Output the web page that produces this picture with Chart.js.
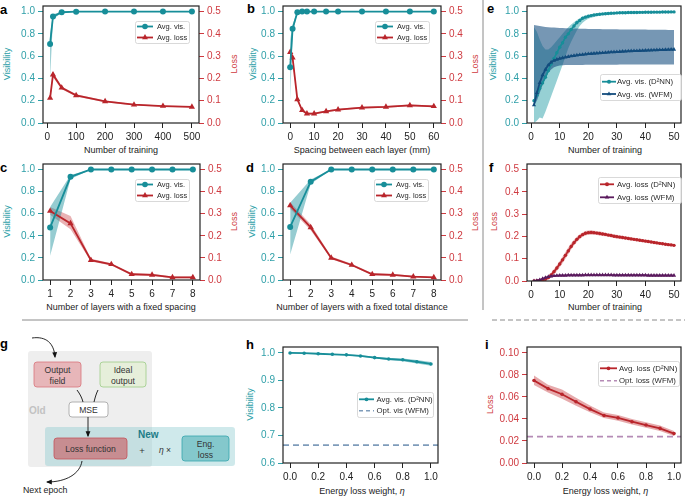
<!DOCTYPE html>
<html><head><meta charset="utf-8">
<script src="https://cdn.jsdelivr.net/npm/chart.js@4.4.1/dist/chart.umd.min.js"></script>
<style>
html,body{margin:0;padding:0;background:#fff}
body{width:685px;height:498px;position:relative;overflow:hidden;font-family:'Liberation Sans',Arial,Helvetica,sans-serif}
canvas{position:absolute}
#ov{position:absolute;left:0;top:0}
</style></head><body>
<svg id="ov" xmlns="http://www.w3.org/2000/svg" width="685" height="498" font-family="Liberation Sans, Arial, sans-serif">
<defs><marker id="ah" viewBox="0 0 10 10" refX="8" refY="5" markerWidth="6" markerHeight="6" markerUnits="userSpaceOnUse" orient="auto"><path d="M0,1 L10,5 L0,9 z" fill="#111"/></marker></defs>
<line x1="483" y1="0" x2="483" y2="310" stroke="#8a8a8a" stroke-width="1"/>
<line x1="22" y1="320" x2="468" y2="320" stroke="#8a8a8a" stroke-width="1"/>
<line x1="492" y1="320" x2="685" y2="320" stroke="#8a8a8a" stroke-width="1" stroke-dasharray="5,3"/>
<g font-weight="bold" font-size="13" fill="#000">
<text x="0" y="14">a</text><text x="247" y="13">b</text><text x="487" y="13">e</text>
<text x="0" y="172">c</text><text x="246" y="172">d</text><text x="489" y="172">f</text>
<text x="0" y="348">g</text><text x="246" y="349">h</text><text x="485" y="349">i</text>
</g>
<g font-size="9" text-anchor="middle">
<text x="121" y="152.5" fill="#222">Number of training</text>
<text x="362" y="152.5" fill="#222">Spacing between each layer (mm)</text>
<text x="605" y="152.5" fill="#222">Number of training</text>
<text x="121" y="309.5" fill="#222">Number of layers with a fixed spacing</text>
<text x="362" y="309.5" fill="#222">Number of layers with a fixed total distance</text>
<text x="605" y="309.5" fill="#222">Number of training</text>
<text x="362" y="493.5" fill="#222">Energy loss weight, <tspan font-style="italic">η</tspan></text>
<text x="605.5" y="493.5" fill="#222">Energy loss weight, <tspan font-style="italic">η</tspan></text>
<text transform="translate(7,64) rotate(-90)" dominant-baseline="central" fill="#2e9fa8">Visibility</text>
<text transform="translate(233.5,64) rotate(-90)" dominant-baseline="central" fill="#cf3a40">Loss</text>
<text transform="translate(253,64) rotate(-90)" dominant-baseline="central" fill="#2e9fa8">Visibility</text>
<text transform="translate(475,64) rotate(-90)" dominant-baseline="central" fill="#cf3a40">Loss</text>
<text transform="translate(492.5,64) rotate(-90)" dominant-baseline="central" fill="#2e9fa8">Visibility</text>
<text transform="translate(7,221.5) rotate(-90)" dominant-baseline="central" fill="#2e9fa8">Visibility</text>
<text transform="translate(233.5,221.5) rotate(-90)" dominant-baseline="central" fill="#cf3a40">Loss</text>
<text transform="translate(252,221.5) rotate(-90)" dominant-baseline="central" fill="#2e9fa8">Visibility</text>
<text transform="translate(475,221.5) rotate(-90)" dominant-baseline="central" fill="#cf3a40">Loss</text>
<text transform="translate(493.5,221.5) rotate(-90)" dominant-baseline="central" fill="#cf3a40">Loss</text>
<text transform="translate(250,404.5) rotate(-90)" dominant-baseline="central" fill="#2e9fa8">Visibility</text>
<text transform="translate(490,404.5) rotate(-90)" dominant-baseline="central" fill="#cf3a40">Loss</text>
</g>
<!-- panel g diagram -->
<rect x="28" y="351" width="124" height="116" rx="3" fill="#eeeeee"/>
<rect x="45" y="427" width="190" height="39" rx="3" fill="#8ccacf" fill-opacity="0.42"/>
<rect x="34" y="362" width="47" height="25" rx="3" fill="#e7b6b9" stroke="#d9737b" stroke-width="0.8"/>
<rect x="100" y="362" width="46" height="25" rx="3" fill="#e6efda" stroke="#9ccb87" stroke-width="0.8"/>
<rect x="69" y="402" width="39" height="15" rx="3" fill="#ffffff" stroke="#a0a0a0" stroke-width="0.8"/>
<rect x="54" y="438" width="73" height="21" rx="3" fill="#c78d91" stroke="#c4545c" stroke-width="0.8"/>
<rect x="182" y="436" width="47" height="25" rx="3" fill="#84c8cc" stroke="#36a5ad" stroke-width="0.8"/>
<g font-size="8.6" fill="#333" text-anchor="middle">
<text x="57.5" y="372.5">Output</text><text x="57.5" y="383.5">field</text>
<text x="123" y="372.5">Ideal</text><text x="123" y="383.5">output</text>
<text x="88.5" y="412.8">MSE</text>
<text x="90.5" y="451.8">Loss function</text>
<text x="205.5" y="446.5">Eng.</text><text x="205.5" y="457.5">loss</text>
<text x="142" y="453.5" font-size="9.5">+</text>
<text x="165" y="453"><tspan font-style="italic">η</tspan> ×</text>
</g>
<text x="29" y="414" font-size="10" font-weight="bold" fill="#c2c2c2">Old</text>
<text x="138" y="437.5" font-size="10" font-weight="bold" fill="#1d7c87">New</text>
<text x="23" y="492.5" font-size="8.8" fill="#222">Next epoch</text>
<g fill="none" stroke="#111" stroke-width="0.9">
<path d="M32,338 C46,336 54,343 55,357" marker-end="url(#ah)"/>
<path d="M77,390 C80,394 82,398 83,402"/>
<path d="M98,390 C96,394 95,398 94,402"/>
<path d="M88,417 L88,436" marker-end="url(#ah)"/>
<path d="M82,461 C80,474 66,482 47,482" marker-end="url(#ah)"/>
</g>
</svg>
<script>
const FONT = "'Liberation Sans', Arial, Helvetica, sans-serif";
const TEAL = '#178e99', TEAL_T = '#2e9fa8', RED = '#b9252b', RED_T = '#cf3a40';
const NAVY = '#134c7d', PURPLE = '#5b1b5e';

// ---- panel a ----
const aX = [10, 20, 50, 100, 200, 300, 400, 500];
const aVis = [0.71, 0.955, 0.994, 0.999, 1.0, 1.0, 1.0, 1.0];
const aVisLo = [0.40, 0.93, 0.99, 0.998, 1.0, 1.0, 1.0, 1.0];
const aVisHi = [0.80, 0.975, 0.998, 1.0, 1.0, 1.0, 1.0, 1.0];
const aLoss = [0.112, 0.217, 0.158, 0.124, 0.097, 0.082, 0.076, 0.072];
const aLossLo = [0.102, 0.205, 0.152, 0.119, 0.093, 0.079, 0.073, 0.069];
const aLossHi = [0.122, 0.229, 0.164, 0.129, 0.101, 0.085, 0.079, 0.075];
const aXTicks = [0, 100, 200, 300, 400, 500];

// ---- panel b ----
const bX = [0, 1, 3, 5, 7, 10, 15, 20, 30, 40, 50, 60];
const bVis = [0.50, 0.845, 0.995, 1, 1, 1, 1, 1, 1, 1, 1, 1];
const bVisLo = [0.20, 0.80, 0.99, 1, 1, 1, 1, 1, 1, 1, 1, 1];
const bVisHi = [0.75, 0.885, 1.0, 1, 1, 1, 1, 1, 1, 1, 1, 1];
const bLoss = [0.318, 0.293, 0.106, 0.057, 0.042, 0.042, 0.052, 0.060, 0.069, 0.072, 0.079, 0.075];
const bLossLo = [0.290, 0.280, 0.098, 0.052, 0.038, 0.038, 0.048, 0.056, 0.065, 0.068, 0.075, 0.071];
const bLossHi = [0.345, 0.310, 0.114, 0.062, 0.046, 0.046, 0.056, 0.064, 0.073, 0.076, 0.083, 0.079];
const bXTicks = [0, 10, 20, 30, 40, 50, 60];

// ---- panel c ----
const cX = [1, 2, 3, 4, 5, 6, 7, 8];
const cVis = [0.476, 0.934, 1, 1, 1, 1, 1, 1];
const cVisLo = [0.22, 0.915, 1, 1, 1, 1, 1, 1];
const cVisHi = [0.66, 0.95, 1, 1, 1, 1, 1, 1];
const cLoss = [0.312, 0.256, 0.090, 0.071, 0.026, 0.023, 0.012, 0.012];
const cLossLo = [0.295, 0.230, 0.084, 0.066, 0.021, 0.018, 0.008, 0.008];
const cLossHi = [0.330, 0.290, 0.096, 0.076, 0.031, 0.028, 0.016, 0.016];

// ---- panel d ----
const dX = [1, 2, 3, 4, 5, 6, 7, 8];
const dVis = [0.48, 0.89, 1, 1, 1, 1, 1, 1];
const dVisLo = [0.23, 0.87, 1, 1, 1, 1, 1, 1];
const dVisHi = [0.70, 0.91, 1, 1, 1, 1, 1, 1];
const dLoss = [0.337, 0.238, 0.100, 0.068, 0.026, 0.023, 0.015, 0.012];
const dLossLo = [0.322, 0.225, 0.094, 0.063, 0.022, 0.019, 0.011, 0.009];
const dLossHi = [0.352, 0.252, 0.106, 0.073, 0.030, 0.027, 0.019, 0.015];
const layerTicks = [1, 2, 3, 4, 5, 6, 7, 8];

// ---- panel e ----
const eX = [1,2,3,4,5,6,7,8,9,10,11,12,13,14,15,16,17,18,19,20,21,22,23,24,25,26,27,28,29,30,31,32,33,34,35,36,37,38,39,40,41,42,43,44,45,46,47,48,49,50];
const eD2 = [0.20,0.25,0.31,0.36,0.41,0.47,0.53,0.58,0.63,0.68, 0.72,0.77,0.80,0.84,0.87,0.90,0.92,0.94,0.95,0.958, 0.964,0.969,0.973,0.976,0.979,0.981,0.983,0.985,0.986,0.988, 0.989,0.990,0.990,0.991,0.991,0.992,0.992,0.993,0.993,0.994, 0.994,0.994,0.995,0.995,0.995,0.996,0.996,0.996,0.997,0.997];
const eD2Lo = [0.00,0.02,0.05,0.04,0.10,0.17,0.24,0.31,0.38,0.45, 0.52,0.60,0.67,0.73,0.78,0.83,0.87,0.90,0.92,0.935, 0.945,0.952,0.958,0.962,0.966,0.969,0.972,0.974,0.976,0.978, 0.979,0.980,0.981,0.982,0.983,0.984,0.985,0.986,0.986,0.987, 0.987,0.988,0.988,0.989,0.989,0.990,0.990,0.990,0.991,0.991];
const eD2Hi = [0.86,0.82,0.75,0.69,0.66,0.66,0.68,0.71,0.74,0.77, 0.80,0.83,0.86,0.885,0.905,0.925,0.94,0.955,0.965,0.972, 0.977,0.981,0.984,0.986,0.988,0.989,0.990,0.991,0.991,0.992, 0.993,0.993,0.994,0.994,0.995,0.995,0.995,0.996,0.996,0.996, 0.997,0.997,0.997,0.997,0.998,0.998,0.998,0.998,0.999,0.999];
const eW = [0.16,0.27,0.36,0.43,0.48,0.52,0.545,0.56,0.57,0.578, 0.584,0.59,0.595,0.60,0.604,0.608,0.611,0.614,0.617,0.62, 0.622,0.624,0.626,0.628,0.63,0.632,0.634,0.636,0.637,0.639, 0.64,0.642,0.643,0.645,0.646,0.647,0.648,0.649,0.65,0.651, 0.652,0.653,0.654,0.655,0.656,0.657,0.658,0.659,0.66,0.66];
const eWLo = [0.16,0.20,0.27,0.34,0.40,0.45,0.48,0.50,0.51,0.515, 0.518,0.52,0.52,0.52,0.52,0.521,0.521,0.521,0.522,0.522, 0.522,0.522,0.522,0.523,0.523,0.523,0.523,0.523,0.523,0.523, 0.524,0.524,0.524,0.524,0.524,0.524,0.524,0.524,0.524,0.524, 0.525,0.525,0.525,0.525,0.525,0.525,0.525,0.525,0.525,0.525];
const eWHi = [0.88,0.875,0.87,0.866,0.862,0.86,0.858,0.856,0.855,0.853, 0.852,0.851,0.85,0.849,0.848,0.847,0.846,0.845,0.845,0.844, 0.844,0.843,0.843,0.843,0.842,0.842,0.842,0.841,0.841,0.841, 0.840,0.840,0.840,0.839,0.839,0.839,0.838,0.838,0.838,0.838, 0.837,0.837,0.837,0.837,0.836,0.836,0.836,0.835,0.835,0.835];
const trainTicks = [0, 10, 20, 30, 40, 50];

// ---- panel f ----
const fD2 = [0.000,0.001,0.002,0.004,0.008,0.015,0.027,0.042,0.058,0.076, 0.095,0.115,0.135,0.155,0.172,0.187,0.199,0.208,0.214,0.217, 0.218,0.217,0.215,0.213,0.211,0.209,0.206,0.204,0.201,0.199, 0.197,0.195,0.193,0.191,0.189,0.187,0.185,0.183,0.181,0.179, 0.177,0.175,0.173,0.171,0.169,0.167,0.165,0.163,0.162,0.160];
const fD2Spread = [0.001,0.002,0.003,0.004,0.006,0.008,0.010,0.012,0.013,0.014, 0.015,0.015,0.015,0.014,0.013,0.012,0.011,0.010,0.010,0.010, 0.010,0.009,0.009,0.009,0.009,0.008,0.008,0.008,0.008,0.008, 0.008,0.008,0.007,0.007,0.007,0.007,0.007,0.007,0.007,0.007, 0.007,0.006,0.006,0.006,0.006,0.006,0.006,0.006,0.006,0.006];
const fW = [0.000,0.002,0.005,0.010,0.015,0.019,0.021,0.023,0.024,0.025, 0.025,0.025,0.026,0.026,0.026,0.026,0.026,0.026,0.027,0.027, 0.027,0.027,0.027,0.027,0.027,0.027,0.027,0.027,0.026,0.026, 0.026,0.026,0.026,0.026,0.026,0.026,0.026,0.026,0.026,0.026, 0.025,0.025,0.025,0.025,0.025,0.025,0.025,0.025,0.025,0.025];
const fWSpread = [0.001,0.001,0.002,0.002,0.003,0.003,0.003,0.003,0.003,0.003, 0.003,0.003,0.003,0.003,0.003,0.003,0.003,0.003,0.003,0.003, 0.003,0.003,0.003,0.003,0.003,0.003,0.003,0.003,0.003,0.003, 0.003,0.003,0.003,0.003,0.003,0.003,0.003,0.003,0.003,0.003, 0.003,0.003,0.003,0.003,0.003,0.003,0.003,0.003,0.003,0.003];

// ---- panel h ----
const etaX = [0.0, 0.1, 0.2, 0.3, 0.4, 0.5, 0.6, 0.7, 0.8, 0.9, 1.0];
const hVis = [1.000, 0.999, 0.997, 0.995, 0.993, 0.989, 0.983, 0.978, 0.975, 0.968, 0.960];
const hSpread = [0.001, 0.001, 0.0015, 0.002, 0.002, 0.0025, 0.003, 0.004, 0.005, 0.006, 0.007];
const hOptVis = 0.665;
const etaTicks = [0.0, 0.2, 0.4, 0.6, 0.8, 1.0];

// ---- panel i ----
const iLoss = [0.0750, 0.0676, 0.0625, 0.0556, 0.0490, 0.0432, 0.0410, 0.0375, 0.0345, 0.0315, 0.0267];
const iLossLo = [0.0708, 0.0640, 0.0583, 0.0520, 0.0460, 0.0410, 0.0385, 0.0350, 0.0320, 0.0290, 0.0245];
const iLossHi = [0.0796, 0.0712, 0.0668, 0.0592, 0.0522, 0.0458, 0.0437, 0.0400, 0.0370, 0.0340, 0.0290];
const iOptLoss = 0.024;

// tick label arrays
const visTicks = [0, 0.2, 0.4, 0.6, 0.8, 1.0];
const lossTicks = [0, 0.1, 0.2, 0.3, 0.4, 0.5];
const hYTicks = [0.6, 0.7, 0.8, 0.9, 1.0];
const iYTicks = [0, 0.02, 0.04, 0.06, 0.08, 0.10];

const pts = (xs, ys) => xs.map((x, i) => ({x, y: ys[i]}));
const CLEAR = 'rgba(0,0,0,0)';
function band(xs, lo, hi, color, axis) {
  return [
    {data: pts(xs, lo), borderColor: CLEAR, borderWidth: 0, pointRadius: 0, fill: false, yAxisID: axis, order: 10},
    {data: pts(xs, hi), borderColor: CLEAR, borderWidth: 0, pointRadius: 0, fill: '-1', backgroundColor: color, yAxisID: axis, order: 10}
  ];
}
function line(xs, ys, color, axis, style, r, lw) {
  return {data: pts(xs, ys), borderColor: color, backgroundColor: color, borderWidth: lw, pointRadius: r,
    pointStyle: style, pointBackgroundColor: color, pointBorderColor: color, pointBorderWidth: 0,
    yAxisID: axis, order: 0, tension: 0, fill: false};
}
function hline(x0, x1, y, color, axis) {
  return {data: [{x: x0, y}, {x: x1, y}], borderColor: color, borderWidth: 1.6, borderDash: [6, 4],
    pointRadius: 0, yAxisID: axis, order: 1, fill: false};
}

const framePlugin = {id: 'frame', afterDatasetsDraw(chart) {
  const {ctx, chartArea: a} = chart;
  ctx.save(); ctx.strokeStyle = '#222'; ctx.lineWidth = 1.2;
  ctx.strokeRect(a.left, a.top, a.right - a.left, a.bottom - a.top); ctx.restore();
}};
function legendPlugin(L, ox, oy) {
  return {id: 'boxLegend', afterDraw(chart) {
    const ctx = chart.ctx; const x = L.x - ox, y = L.y - oy;
    ctx.save();
    ctx.beginPath();
    if (ctx.roundRect) ctx.roundRect(x + 0.5, y + 0.5, L.w, L.h, 2); else ctx.rect(x + 0.5, y + 0.5, L.w, L.h);
    ctx.fillStyle = 'rgba(255,255,255,0.85)'; ctx.fill();
    ctx.strokeStyle = '#cfcfcf'; ctx.lineWidth = 0.8; ctx.stroke();
    L.items.forEach((it, i) => {
      const cy = y + L.rows[i], x0 = x + L.line[0], x1 = x0 + L.line[1];
      ctx.strokeStyle = it.color; ctx.lineWidth = it.lw || 1.8; ctx.setLineDash(it.dash || []);
      ctx.beginPath(); ctx.moveTo(x0, cy); ctx.lineTo(x1, cy); ctx.stroke(); ctx.setLineDash([]);
      if (it.marker) {
        ctx.fillStyle = it.color; const mx = (x0 + x1) / 2, r = it.r; ctx.beginPath();
        if (it.marker === 'circle') ctx.arc(mx, cy, r, 0, Math.PI * 2);
        else { ctx.moveTo(mx, cy - r); ctx.lineTo(mx + r * 0.866, cy + r * 0.5); ctx.lineTo(mx - r * 0.866, cy + r * 0.5); ctx.closePath(); }
        ctx.fill();
      }
      ctx.fillStyle = '#2a2a2a'; ctx.font = L.fs + 'px ' + FONT; ctx.textBaseline = 'middle'; ctx.textAlign = 'left';
      ctx.fillText(it.label, x + L.textX, cy + 0.5);
    });
    ctx.restore();
  }};
}

function makePanel(p) {
  const padT = 3, botH = 22, padR = p.y2 ? 0 : 1, rw = p.y2 ? p.rightW : 0;
  const w = (p.R - p.L) + p.leftW + rw + padR, h = (p.B - p.T) + padT + botH;
  const ox = p.L - p.leftW, oy = p.T - padT;
  const cv = document.createElement('canvas');
  cv.width = w; cv.height = h;
  cv.style.left = ox + 'px'; cv.style.top = oy + 'px'; cv.style.width = w + 'px'; cv.style.height = h + 'px';
  document.body.appendChild(cv);
  const yAxis = (o, pos, width) => ({type: 'linear', position: pos, min: o.min, max: o.max,
    afterBuildTicks: s => { s.ticks = o.ticks.map(v => ({value: v})); },
    afterFit: s => { s.width = width; s.paddingTop = 0; s.paddingBottom = 0; },
    grid: {drawOnChartArea: false, drawTicks: true, tickLength: 5, color: o.color, lineWidth: 1},
    border: {display: false},
    ticks: {color: o.color, font: {family: FONT, size: 10}, padding: 3, autoSkip: false, callback: v => Number(v).toFixed(o.dec)}});
  const scales = {
    x: {type: 'linear', min: p.x.min, max: p.x.max,
      afterBuildTicks: s => { s.ticks = p.x.ticks.map(v => ({value: v})); },
      afterFit: s => { s.height = botH; s.paddingLeft = 0; s.paddingRight = 0; },
      grid: {drawOnChartArea: false, drawTicks: true, tickLength: 5, color: '#222', lineWidth: 1},
      border: {display: false},
      ticks: {color: '#222', font: {family: FONT, size: 10}, padding: 3, autoSkip: false, maxRotation: 0, callback: v => Number(v).toFixed(p.x.dec)}},
    y: yAxis(p.y, 'left', p.leftW)
  };
  if (p.y2) scales.y2 = yAxis(p.y2, 'right', p.rightW);
  new Chart(cv, {type: 'line', data: {datasets: p.datasets},
    options: {responsive: false, animation: false, layout: {padding: {top: padT, right: padR, left: 0, bottom: 0}},
      scales, plugins: {legend: {display: false}, tooltip: {enabled: false}}},
    plugins: [framePlugin, legendPlugin(p.legend, ox, oy)]});
}

const tealBand = 'rgba(23,142,153,0.45)', redBand = 'rgba(196,52,58,0.38)';
const visY = {min: 0, max: 1.05, ticks: visTicks, dec: 1, color: TEAL_T};
const lossY = {min: 0, max: 0.525, ticks: lossTicks, dec: 1, color: RED_T};
const legAB = (x, y) => ({x, y, w: 54, h: 22, rows: [5.5, 16.5], line: [2, 16], textX: 22, fs: 7.5,
  items: [{label: 'Avg. vis.', color: TEAL, marker: 'circle', r: 2.8}, {label: 'Avg. loss', color: RED, marker: 'triangle', r: 3.4}]});

makePanel({L: 43, T: 5, R: 199, B: 123, leftW: 43, rightW: 36,
  x: {min: -14.5, max: 524.5, ticks: aXTicks, dec: 0}, y: visY, y2: lossY,
  datasets: [...band(aX, aVisLo, aVisHi, tealBand, 'y'), ...band(aX, aLossLo, aLossHi, redBand, 'y2'),
    line(aX, aVis, TEAL, 'y', 'circle', 3, 1.8), line(aX, aLoss, RED, 'y2', 'triangle', 3.6, 1.8)],
  legend: legAB(135, 21)});

makePanel({L: 283, T: 5, R: 441, B: 123, leftW: 35, rightW: 36,
  x: {min: -3, max: 63, ticks: bXTicks, dec: 0}, y: visY, y2: lossY,
  datasets: [...band(bX, bVisLo, bVisHi, tealBand, 'y'), ...band(bX, bLossLo, bLossHi, redBand, 'y2'),
    line(bX, bVis, TEAL, 'y', 'circle', 3, 1.8), line(bX, bLoss, RED, 'y2', 'triangle', 3.6, 1.8)],
  legend: legAB(375, 21)});

makePanel({L: 43, T: 163, R: 200, B: 280, leftW: 43, rightW: 36,
  x: {min: 0.65, max: 8.35, ticks: layerTicks, dec: 0}, y: visY, y2: lossY,
  datasets: [...band(cX, cVisLo, cVisHi, tealBand, 'y'), ...band(cX, cLossLo, cLossHi, redBand, 'y2'),
    line(cX, cVis, TEAL, 'y', 'circle', 3, 1.8), line(cX, cLoss, RED, 'y2', 'triangle', 3.6, 1.8)],
  legend: legAB(135, 179)});

makePanel({L: 283, T: 163, R: 441, B: 280, leftW: 35, rightW: 36,
  x: {min: 0.65, max: 8.35, ticks: layerTicks, dec: 0}, y: visY, y2: lossY,
  datasets: [...band(dX, dVisLo, dVisHi, tealBand, 'y'), ...band(dX, dLossLo, dLossHi, redBand, 'y2'),
    line(dX, dVis, TEAL, 'y', 'circle', 3, 1.8), line(dX, dLoss, RED, 'y2', 'triangle', 3.6, 1.8)],
  legend: legAB(374, 179)});

makePanel({L: 527, T: 5, R: 684, B: 123, leftW: 34,
  x: {min: -1.45, max: 52.45, ticks: trainTicks, dec: 0}, y: visY,
  datasets: [...band(eX, eWLo, eWHi, 'rgba(19,76,125,0.58)', 'y'), ...band(eX, eD2Lo, eD2Hi, 'rgba(23,150,160,0.45)', 'y'),
    line(eX, eW, NAVY, 'y', 'triangle', 2.4, 1.7), line(eX, eD2, TEAL, 'y', 'circle', 1.7, 1.7)],
  legend: {x: 600, y: 74, w: 81, h: 26, rows: [7.7, 20], line: [2, 14], textX: 17, fs: 7.8,
    items: [{label: 'Avg. vis. (D²NN)', color: TEAL, marker: 'circle', r: 2}, {label: 'Avg. vis. (WFM)', color: NAVY, marker: 'triangle', r: 2.6}]}});

makePanel({L: 527, T: 163, R: 684, B: 281, leftW: 34,
  x: {min: -1.45, max: 52.45, ticks: trainTicks, dec: 0}, y: lossY,
  datasets: [...band(eX, fW.map((v, i) => v - fWSpread[i]), fW.map((v, i) => v + fWSpread[i]), 'rgba(91,27,94,0.35)', 'y'),
    ...band(eX, fD2.map((v, i) => v - fD2Spread[i]), fD2.map((v, i) => v + fD2Spread[i]), 'rgba(196,52,58,0.38)', 'y'),
    line(eX, fW, PURPLE, 'y', 'triangle', 2.4, 1.7), line(eX, fD2, RED, 'y', 'circle', 1.7, 1.7)],
  legend: {x: 598, y: 177, w: 83, h: 26, rows: [7.3, 20.3], line: [2, 14], textX: 19, fs: 7.8,
    items: [{label: 'Avg. loss (D²NN)', color: RED, marker: 'circle', r: 2}, {label: 'Avg. loss (WFM)', color: PURPLE, marker: 'triangle', r: 2.6}]}});

makePanel({L: 283, T: 346, R: 441, B: 463, leftW: 35,
  x: {min: -0.05, max: 1.05, ticks: etaTicks, dec: 1}, y: {min: 0.6, max: 1.0216, ticks: hYTicks, dec: 1, color: TEAL_T},
  datasets: [...band(etaX, hVis.map((v, i) => v - hSpread[i]), hVis.map((v, i) => v + hSpread[i]), tealBand, 'y'),
    hline(-0.05, 1.05, hOptVis, '#7f9cba', 'y'), line(etaX, hVis, TEAL, 'y', 'circle', 1.8, 1.8)],
  legend: {x: 357, y: 392, w: 76, h: 25, rows: [7.3, 18.7], line: [2, 15], textX: 19.5, fs: 7.8,
    items: [{label: 'Avg. vis. (D²NN)', color: TEAL, marker: 'circle', r: 1.9}, {label: 'Opt. vis (WFM)', color: '#7f9cba', dash: [4, 3], lw: 1.6}]}});

makePanel({L: 527, T: 346, R: 684, B: 463, leftW: 34,
  x: {min: -0.05, max: 1.05, ticks: etaTicks, dec: 1}, y: {min: 0, max: 0.1054, ticks: iYTicks, dec: 2, color: RED_T},
  datasets: [...band(etaX, iLossLo, iLossHi, 'rgba(196,52,58,0.42)', 'y'),
    hline(-0.05, 1.05, iOptLoss, '#b58bb6', 'y'), line(etaX, iLoss, RED, 'y', 'circle', 1.8, 1.8)],
  legend: {x: 598, y: 361, w: 81, h: 25, rows: [7.3, 19.7], line: [2, 17], textX: 21, fs: 7.8,
    items: [{label: 'Avg. loss (D²NN)', color: RED, marker: 'circle', r: 1.9}, {label: 'Opt. loss (WFM)', color: '#b58bb6', dash: [4, 3], lw: 1.6}]}});
</script>
</body></html>
